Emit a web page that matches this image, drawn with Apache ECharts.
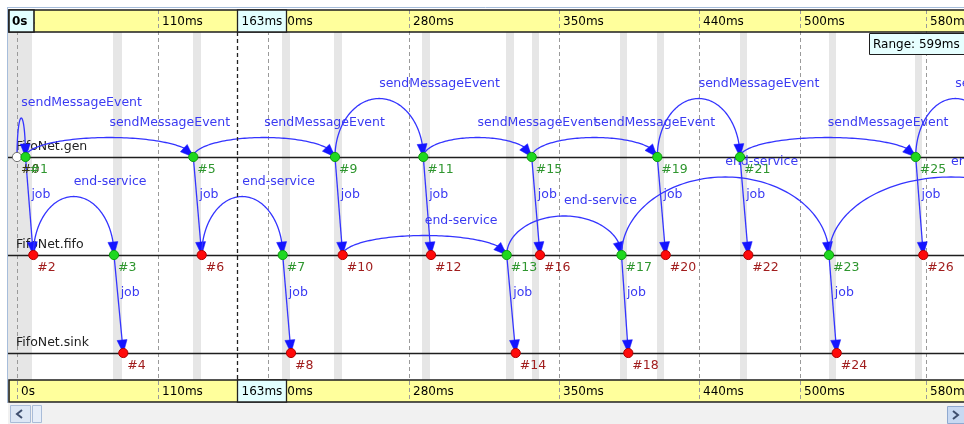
<!DOCTYPE html>
<html><head><meta charset="utf-8">
<script src="https://cdn.jsdelivr.net/npm/echarts@6/dist/echarts.min.js"></script>
<style>html,body{margin:0;padding:0;background:#fff}#c{width:964px;height:424px}</style>
</head><body><div id="c"></div>
<script>
// ---------------- data ----------------
const lanes = ['FifoNet.gen', 'FifoNet.fifo', 'FifoNet.sink'];

// events: number, position on the (non-linear) timeline, lane index, kind
const eventNum  = [0, 1, 2, 3, 4, 5, 6, 7, 8, 9, 10, 11, 12, 13, 14, 15, 16, 17, 18, 19, 20, 21, 22, 23, 24, 25, 26, 27, 28];
const eventPos  = [17, 25.5, 33.3, 114, 123.3, 193.3, 201.7, 282.7, 291, 335, 342.7, 423.3, 431, 506.7, 515.7, 531.7, 540, 621.5, 628.3, 657.3, 665.7, 740, 748.3, 829, 836.7, 915.7, 923.3, 995, 1073];
const eventLane = [0, 0, 1, 1, 2, 0, 1, 1, 2, 0, 1, 0, 1, 1, 2, 0, 1, 1, 2, 0, 1, 0, 1, 1, 2, 0, 1, 0, 1];
const eventKind = ['o','g','r','g','r','g','r','g','r','g','r','g','r','g','r','g','r','g','r','g','r','g','r','g','r','g','r','g','g'];

// messages: from event, to event, name, arc level (0 = straight arrow)
const msgFrom  = [0, 1, 5, 9, 11, 15, 19, 21, 25,   1, 5, 9, 11, 15, 19, 21, 25, 3, 7, 13, 17, 23,   2, 6, 10, 13, 17, 23];
const msgTo    = [1, 5, 9, 11, 15, 19, 21, 25, 27,  2, 6, 10, 12, 16, 20, 22, 26, 4, 8, 14, 18, 24,  3, 7, 13, 17, 23, 28];
const msgName  = ['sendMessageEvent','sendMessageEvent','sendMessageEvent','sendMessageEvent','sendMessageEvent','sendMessageEvent','sendMessageEvent','sendMessageEvent','sendMessageEvent',
                  'job','job','job','job','job','job','job','job','job','job','job','job','job',
                  'end-service','end-service','end-service','end-service','end-service','end-service'];
const msgLevel = [2, 1, 1, 3, 1, 1, 3, 1, 3,  0, 0, 0, 0, 0, 0, 0, 0, 0, 0, 0, 0, 0,  3, 3, 1, 2, 4, 4];

// timeline ticks
const tickPos   = [17, 158, 268, 409, 559, 699, 800, 926];
const tickLabel = ['0s', '110ms', '200ms', '280ms', '350ms', '440ms', '500ms', '580ms'];

// zero-duration (same simulation time) regions
const bandFrom = [8, 113, 193, 282, 334, 422, 506, 532, 620, 657, 740, 829, 915];
const bandTo   = [32, 122, 201, 290, 342, 430, 514, 539, 627, 664, 747, 836, 922];

// cursor marker
const cursorPos   = [237];
const cursorLabel = ['163ms'];
const viewStartLabel = '0s';
const rangeLabel = 'Range: 599ms';

// ---------------- styles ----------------
const FONT = '"DejaVu Sans"';
const ARC_STEP = 19.5;
const PLOT_TOP = 32, PLOT_BOTTOM = 380;
const HDR_TOP_Y = 10, HDR_BOT_Y = 380, HDR_H = 22;
const LINE_COL = '#3434ff', LABEL_COL = '#3a3af2', HEAD_COL = '#1414ff';

function txt(x, y, text, font, fill, align, valign, extra) {
  return Object.assign({type: 'text', x: x, y: y, style: {text: text, font: font, fill: fill,
    align: align, textAlign: align, verticalAlign: valign, textVerticalAlign: valign}}, extra || {});
}

const chart = echarts.init(document.getElementById('c'), null, {renderer: 'canvas'});

function renderBand(params, api) {
  const a = api.coord([api.value(0), 0]), b = api.coord([api.value(1), 0]);
  return {type: 'rect', shape: {x: a[0], y: PLOT_TOP, width: b[0] - a[0], height: PLOT_BOTTOM - PLOT_TOP},
          style: {fill: '#e6e6e6'}};
}
function renderGrid(params, api) {
  const x = Math.round(api.coord([api.value(0), 0])[0]) + 0.5;
  return {type: 'line', shape: {x1: x, y1: HDR_TOP_Y, x2: x, y2: HDR_BOT_Y + HDR_H},
          style: {stroke: '#9a9a9a', lineWidth: 1, lineDash: [4, 3]}};
}
function renderTick(params, api) {
  const x = api.coord([api.value(0), 0])[0];
  const t = tickLabel[params.dataIndex];
  return {type: 'group', children: [
    txt(x + 4, HDR_TOP_Y + HDR_H / 2 + 1, t, '12px ' + FONT, '#000', 'left', 'middle'),
    txt(x + 4, HDR_BOT_Y + HDR_H / 2 + 1, t, '12px ' + FONT, '#000', 'left', 'middle')
  ]};
}
function renderCursor(params, api) {
  const x = Math.round(api.coord([api.value(0), 0])[0]) + 0.5;
  const t = cursorLabel[params.dataIndex];
  const w = 49;
  return {type: 'group', children: [
    {type: 'line', shape: {x1: x, y1: PLOT_TOP, x2: x, y2: PLOT_BOTTOM}, style: {stroke: '#222', lineWidth: 1.3, lineDash: [4, 3]}},
    {type: 'rect', shape: {x: x, y: HDR_TOP_Y, width: w, height: HDR_H}, style: {fill: '#e2ffff', stroke: '#222', lineWidth: 1.3}},
    txt(x + 4, HDR_TOP_Y + HDR_H / 2 + 1, t, '12px ' + FONT, '#000', 'left', 'middle'),
    {type: 'rect', shape: {x: x, y: HDR_BOT_Y, width: w, height: HDR_H}, style: {fill: '#e2ffff', stroke: '#222', lineWidth: 1.3}},
    txt(x + 4, HDR_BOT_Y + HDR_H / 2 + 1, t, '12px ' + FONT, '#000', 'left', 'middle')
  ]};
}
function renderLane(params, api) {
  const y = Math.round(api.coord([0, api.value(0)])[1]) + 0.5;
  const w = api.getWidth();
  return {type: 'group', children: [
    {type: 'line', shape: {x1: 8, y1: y, x2: w, y2: y}, style: {stroke: '#1e1e1e', lineWidth: 1.3}},
    txt(16, y - 11, lanes[params.dataIndex], '12.5px ' + FONT, '#222', 'left', 'middle')
  ]};
}
function renderMsg(params, api) {
  const i = params.dataIndex;
  const p1 = api.coord([api.value(0), api.value(1)]);
  const p2 = api.coord([api.value(2), api.value(3)]);
  const lvl = api.value(4);
  let pts, lx, ly;
  if (api.value(1) === api.value(3)) {
    const h = lvl * ARC_STEP, cx = (p1[0] + p2[0]) / 2, rx = (p2[0] - p1[0]) / 2, y0 = p1[1];
    pts = [];
    const N = 90;
    for (let k = 0; k <= N; k++) {
      const th = Math.PI * (1 - k / N);
      pts.push([cx + rx * Math.cos(th), y0 - h * Math.sin(th)]);
    }
    lx = cx; ly = y0 - h - 15;
  } else {
    pts = [p1, p2];
    lx = (p1[0] + p2[0]) / 2 + 2; ly = (p1[1] + p2[1]) / 2 - 11;
  }
  const AL = 13, AW = 5;
  const tip = pts[pts.length - 1];
  let back = pts[0], acc = 0;
  for (let k = pts.length - 2; k >= 0; k--) {
    acc += Math.hypot(pts[k + 1][0] - pts[k][0], pts[k + 1][1] - pts[k][1]);
    back = pts[k];
    if (acc >= AL) break;
  }
  let ux = tip[0] - back[0], uy = tip[1] - back[1];
  const len = Math.hypot(ux, uy) || 1; ux /= len; uy /= len;
  const bx = tip[0] - ux * AL, by = tip[1] - uy * AL;
  const head = [[tip[0], tip[1]], [bx - uy * AW, by + ux * AW], [bx + uy * AW, by - ux * AW]];
  return {type: 'group', children: [
    {type: 'polyline', shape: {points: pts}, style: {stroke: LINE_COL, lineWidth: 1.3, fill: null}},
    {type: 'polygon', shape: {points: head}, style: {fill: HEAD_COL, stroke: HEAD_COL, lineWidth: 0.5}},
    txt(lx, ly, msgName[i], '12.5px ' + FONT, LABEL_COL, 'left', 'middle')
  ]};
}
function renderEvt(params, api) {
  const i = params.dataIndex;
  const p = api.coord([api.value(0), api.value(1)]);
  const k = eventKind[i];
  const fill = k === 'g' ? '#1fd81f' : (k === 'r' ? '#ff0a0a' : '#ffffff');
  const stroke = k === 'g' ? '#0e9a0e' : (k === 'r' ? '#b00000' : '#707070');
  const tcol = k === 'g' ? '#2f962f' : (k === 'r' ? '#a11e1e' : '#3a3a10');
  return {type: 'group', children: [
    {type: 'circle', shape: {cx: p[0], cy: p[1], r: 4.6}, style: {fill: fill, stroke: stroke, lineWidth: 1}},
    txt(p[0] + 4, p[1] + 12.5, '#' + eventNum[i], '12.5px ' + FONT, tcol, 'left', 'middle')
  ]};
}

const option = {
  animation: false,
  backgroundColor: '#ffffff',
  grid: {left: 0, right: 0, top: 108, bottom: 22},
  xAxis: {type: 'value', min: 0, max: 964, show: false},
  yAxis: {type: 'category', data: lanes, inverse: true, show: false},
  graphic: [
    // frame
    {type: 'line', z: 0, shape: {x1: 7, y1: 7.5, x2: 964, y2: 7.5}, style: {stroke: '#a6bddb', lineWidth: 1}},
    {type: 'line', z: 0, shape: {x1: 7.5, y1: 7, x2: 7.5, y2: 403}, style: {stroke: '#a6bddb', lineWidth: 1}},
    // header fills
    {type: 'rect', z: 0, shape: {x: 9, y: HDR_TOP_Y, width: 960, height: HDR_H}, style: {fill: '#ffff9c'}},
    {type: 'rect', z: 0, shape: {x: 9, y: HDR_BOT_Y, width: 960, height: HDR_H}, style: {fill: '#ffff9c'}},
    // header borders
    {type: 'rect', z: 10, shape: {x: 9, y: HDR_TOP_Y, width: 960, height: HDR_H}, style: {fill: null, stroke: '#1e1e1e', lineWidth: 1.6}},
    {type: 'rect', z: 10, shape: {x: 9, y: HDR_BOT_Y, width: 960, height: HDR_H}, style: {fill: null, stroke: '#1e1e1e', lineWidth: 1.6}},
    // view start box
    {type: 'rect', z: 11, shape: {x: 9, y: HDR_TOP_Y, width: 25, height: HDR_H}, style: {fill: '#e2ffff', stroke: '#1e1e1e', lineWidth: 1.6}},
    Object.assign(txt(12, HDR_TOP_Y + HDR_H / 2 + 1, viewStartLabel, 'bold 12px ' + FONT, '#000', 'left', 'middle'), {z: 12}),
    // range box
    {type: 'rect', z: 11, shape: {x: 869.5, y: 33.5, width: 100, height: 21}, style: {fill: '#e6ffff', stroke: '#1e1e1e', lineWidth: 1}},
    Object.assign(txt(873, 44.5, rangeLabel, '12px ' + FONT, '#000', 'left', 'middle'), {z: 12}),
    // scrollbar
    {type: 'rect', z: 0, shape: {x: 8, y: 403, width: 956, height: 21}, style: {fill: '#f1f1f1'}},
    {type: 'rect', z: 1, shape: {x: 10.5, y: 405.5, width: 20, height: 17}, style: {fill: '#dde7f5', stroke: '#a9bcd8', lineWidth: 1}},
    {type: 'polyline', z: 2, shape: {points: [[22, 410], [17, 414], [22, 418]]}, style: {stroke: '#3e4e6e', lineWidth: 2, fill: null}},
    {type: 'rect', z: 1, shape: {x: 32.5, y: 405.5, width: 9, height: 17}, style: {fill: '#e6eef9', stroke: '#a9bcd8', lineWidth: 1}},
    {type: 'rect', z: 1, shape: {x: 947.5, y: 406.5, width: 20, height: 17}, style: {fill: '#c8d9f2', stroke: '#8fa9d0', lineWidth: 1}},
    {type: 'polyline', z: 2, shape: {points: [[953, 411], [958, 415], [953, 419]]}, style: {stroke: '#3e4e6e', lineWidth: 2, fill: null}}
  ],
  series: [
    {type: 'custom', z: 1, silent: true, renderItem: renderBand, data: bandFrom.map((f, i) => [f, bandTo[i]])},
    {type: 'custom', z: 2, silent: true, renderItem: renderGrid, data: tickPos.map(p => [p])},
    {type: 'custom', z: 3, silent: true, renderItem: renderTick, data: tickPos.map(p => [p])},
    {type: 'custom', z: 3, silent: true, renderItem: renderLane, data: lanes.map((l, i) => [i])},
    {type: 'custom', z: 4, silent: true, renderItem: renderMsg,
     data: msgFrom.map((f, i) => [eventPos[f], eventLane[f], eventPos[msgTo[i]], eventLane[msgTo[i]], msgLevel[i]])},
    {type: 'custom', z: 5, silent: true, renderItem: renderEvt, data: eventPos.map((p, i) => [p, eventLane[i]])},
    {type: 'custom', z: 12, silent: true, renderItem: renderCursor, data: cursorPos.map(p => [p])}
  ]
};
chart.setOption(option);
</script>
</body></html>
